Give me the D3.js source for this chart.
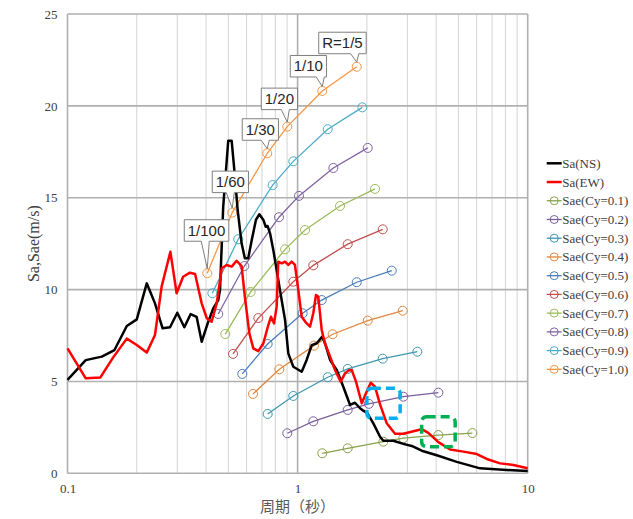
<!DOCTYPE html>
<html>
<head>
<meta charset="utf-8">
<script src="https://cdn.jsdelivr.net/npm/d3@7"></script>
<style>
  body { margin: 0; background: #fff; }
  #chart { width: 633px; height: 519px; }
</style>
</head>
<body>
<div id="chart"></div>
<script>
// Sa(NS)
var nsT = [0.100, 0.120, 0.141, 0.160, 0.181, 0.200, 0.221, 0.240, 0.259, 0.279, 0.300, 0.322, 0.343, 0.364, 0.383, 0.409, 0.430, 0.452,
  0.460, 0.475, 0.4995, 0.517, 0.531, 0.549, 0.571, 0.590, 0.610, 0.632, 0.659, 0.682, 0.710, 0.727, 0.741, 0.759, 0.784, 0.811, 0.838,
  0.882, 0.911, 0.958, 1.042, 1.095, 1.152, 1.211, 1.28, 1.315, 1.384, 1.479, 1.58, 1.69, 1.776, 1.867, 1.931, 2.01, 2.134, 2.282, 2.358,
  2.607, 2.88, 3.134, 3.464, 4.026, 4.918, 6.21, 8.11, 10];
var nsSa = [5.08, 6.16, 6.35, 6.71, 8.02, 8.38, 10.34, 9.25, 7.89, 7.95, 8.74, 7.95, 8.67, 8.52, 7.16, 8.25, 8.98, 9.43,
  9.98, 14.5, 18.1, 18.1, 16.5, 14.33, 12.52, 11.7, 11.7, 12.7, 13.79, 14.1, 13.79, 13.42, 13.46, 13.06, 12.16, 11.07, 9.98,
  8.35, 6.53, 5.8, 5.53, 6.17, 6.98, 7.08, 7.44, 7.08, 6.17, 5.62, 4.71, 3.72, 3.84, 3.54, 3.41, 3.27, 2.72, 1.99, 1.77,
  1.77, 1.6, 1.49, 1.23, 0.98, 0.62, 0.27, 0.18, 0.13];

// Sa(EW)
var ewT = [0.100, 0.120, 0.139, 0.158, 0.181, 0.200, 0.221, 0.240, 0.2565, 0.280, 0.298, 0.318, 0.3405, 0.3585, 0.383, 0.403, 0.423, 0.445,
  0.468, 0.492, 0.517, 0.543, 0.571, 0.590, 0.617, 0.642, 0.675, 0.710, 0.746, 0.766, 0.790, 0.811, 0.824, 0.853, 0.882, 0.911, 0.943,
  0.974, 1.007, 1.042, 1.088, 1.132, 1.170, 1.202, 1.23, 1.273, 1.315, 1.384, 1.454, 1.539, 1.607, 1.661, 1.719, 1.794, 1.900, 2.01,
  2.079, 2.17, 2.282, 2.44, 2.651, 2.88, 3.185, 3.464, 3.70, 4.09, 4.60, 5.25, 6.01, 6.64, 7.59, 8.67, 10];
var ewSa = [6.8, 5.17, 5.22, 6.31, 7.33, 6.98, 6.57, 7.53, 10.16, 12.06, 9.8, 10.7, 10.92, 10.85, 9.25, 8.44, 8.25, 9.25,
  11.16, 11.34, 11.25, 11.57, 11.28, 9.61, 7.62, 6.8, 6.65, 7.08, 8.07, 8.52, 8.16, 9.07, 11.52, 11.43, 11.52, 11.34, 11.52,
  11.34, 9.98, 8.52, 8.2, 7.98, 8.71, 9.71, 9.61, 7.8, 7.08, 6.35, 5.62, 4.99, 5.44, 5.59, 5.62, 4.99, 3.81, 4.53,
  4.93, 4.71, 3.75, 2.72, 2.15, 2.15, 2.29, 2.4, 2.2, 1.7, 1.3, 1.18, 1.05, 0.78, 0.54, 0.45, 0.27];

// Sae for each Cy, points at R = 1/100, 1/60, 1/30, 1/20, 1/10, 1/5
var cyList = ["0.1", "0.2", "0.3", "0.4", "0.5", "0.6", "0.7", "0.8", "0.9", "1.0"];
var saeT = [
  [1.28, 1.651, 2.358, 2.88, 4.09, 5.75],
  [0.902, 1.17, 1.651, 2.04, 2.88, 4.09],
  [0.741, 0.958, 1.352, 1.651, 2.344, 3.314],
  [0.640, 0.833, 1.178, 1.42, 2.017, 2.864],
  [0.575, 0.741, 1.052, 1.273, 1.807, 2.566],
  [0.524, 0.675, 0.958, 1.17, 1.651, 2.344],
  [0.485, 0.625, 0.882, 1.077, 1.529, 2.17],
  [0.452, 0.587, 0.830, 1.014, 1.43, 2.017],
  [0.426, 0.552, 0.779, 0.958, 1.352, 1.911],
  [0.405, 0.520, 0.738, 0.902, 1.28, 1.807]
];
var saeV = [
  [1.09, 1.36, 1.72, 1.91, 2.08, 2.19],
  [2.18, 2.83, 3.45, 3.78, 4.17, 4.39],
  [3.23, 4.21, 5.23, 5.68, 6.24, 6.62],
  [4.32, 5.66, 6.95, 7.57, 8.31, 8.85],
  [5.41, 7.04, 8.71, 9.43, 10.4, 11.03],
  [6.5, 8.45, 10.43, 11.32, 12.47, 13.28],
  [7.58, 9.87, 12.19, 13.24, 14.55, 15.48],
  [8.67, 11.28, 13.94, 15.1, 16.62, 17.71],
  [9.8, 12.74, 15.69, 16.98, 18.73, 19.92],
  [10.89, 14.19, 17.42, 18.87, 20.81, 22.13]
];
var rLabels = ["1/100", "1/60", "1/30", "1/20", "1/10", "R=1/5"];

var xTicks = [0.1, 1, 10];
var yTicks = [0, 5, 10, 15, 20, 25];

// highlighted areas (period range, value range)
var boxT = [[2.0, 2.79], [3.46, 4.84]];
var boxV = [[2.99, 4.63], [1.45, 3.08]];

var saeColors = ["#86a24a", "#7a5f9a", "#3f98ad", "#e0883f", "#4a7ebb", "#c0504d", "#9bbb59", "#8064a2", "#4bacc6", "#f79646"];
var boxColors = ["#00b0f0", "#00b050"];
// callout box: left offset, bottom offset from the marker
var callOff = [[-23, -32], [-20, -20], [-25, -13], [-26, -17], [-32, -14], [-38, -13]];

var width = 633, height = 519,
    pL = 67.5, pR = 527.7, pT = 14, pB = 473.3;

var svg = d3.select("#chart").append("svg")
  .attr("width", width)
  .attr("height", height);

var x = d3.scaleLog().domain([0.1, 10]).range([pL, pR]);
var y = d3.scaleLinear().domain([0, 25]).range([pB, pT]);

// grid
var minor = [];
[0.1, 1].forEach(function(d) { for (var k = 2; k <= 9; k++) minor.push(d * k); });
svg.append("g").selectAll("line").data(minor).enter().append("line")
  .attr("x1", function(d) { return x(d); }).attr("x2", function(d) { return x(d); })
  .attr("y1", pT).attr("y2", pB)
  .attr("stroke", "#d4d4d4").attr("stroke-width", 1);
svg.append("g").selectAll("line").data(yTicks).enter().append("line")
  .attr("x1", pL).attr("x2", pR)
  .attr("y1", function(d) { return y(d); }).attr("y2", function(d) { return y(d); })
  .attr("stroke", "#b0b0b0").attr("stroke-width", 1.6);
svg.append("g").selectAll("line").data(xTicks).enter().append("line")
  .attr("x1", function(d) { return x(d); }).attr("x2", function(d) { return x(d); })
  .attr("y1", pT).attr("y2", pB)
  .attr("stroke", "#b0b0b0").attr("stroke-width", 1.6);

// axes
var xAxis = svg.append("g").attr("transform", "translate(0," + pB + ")")
  .call(d3.axisBottom(x).tickValues(xTicks).tickFormat(d3.format("")).tickSize(0).tickPadding(10));
var yAxis = svg.append("g").attr("transform", "translate(" + pL + ",0)")
  .call(d3.axisLeft(y).tickValues(yTicks).tickSize(0).tickPadding(10));
[xAxis, yAxis].forEach(function(a) {
  a.select(".domain").remove();
  a.selectAll("text").attr("font-family", "'Liberation Serif', serif").attr("font-size", 13).attr("fill", "#404040");
});

svg.append("text")
  .attr("x", (pL + pR) / 2).attr("y", 512)
  .attr("text-anchor", "middle")
  .attr("font-family", "'Noto Sans CJK JP', sans-serif").attr("font-size", 15).attr("fill", "#595959")
  .text("周期（秒）");
svg.append("text")
  .attr("transform", "translate(39," + ((pT + pB) / 2) + ") rotate(-90)")
  .attr("text-anchor", "middle")
  .attr("font-family", "'Liberation Serif', serif").attr("font-size", 16).attr("fill", "#404040")
  .text("Sa,Sae(m/s)");

var line = d3.line().x(function(d) { return x(d[0]); }).y(function(d) { return y(d[1]); });

// Sae series
cyList.forEach(function(cy, i) {
  var pts = d3.zip(saeT[i], saeV[i]);
  var g = svg.append("g");
  g.append("path").attr("d", line(pts)).attr("fill", "none")
    .attr("stroke", saeColors[i]).attr("stroke-width", 1.3);
  g.selectAll("circle").data(pts).enter().append("circle")
    .attr("cx", function(d) { return x(d[0]); }).attr("cy", function(d) { return y(d[1]); })
    .attr("r", 4.5).attr("fill", "none").attr("stroke", saeColors[i]).attr("stroke-width", 1);
});

// Sa curves
svg.append("path").attr("d", line(d3.zip(nsT, nsSa))).attr("fill", "none")
  .attr("stroke", "#000").attr("stroke-width", 2.5).attr("stroke-linejoin", "round");
svg.append("path").attr("d", line(d3.zip(ewT, ewSa))).attr("fill", "none")
  .attr("stroke", "#ff0000").attr("stroke-width", 2.5).attr("stroke-linejoin", "round");

// dashed highlight boxes
boxT.forEach(function(t, i) {
  svg.append("rect")
    .attr("x", x(t[0])).attr("y", y(boxV[i][1]))
    .attr("width", x(t[1]) - x(t[0])).attr("height", y(boxV[i][0]) - y(boxV[i][1]))
    .attr("rx", 5).attr("fill", "none")
    .attr("stroke", boxColors[i]).attr("stroke-width", 3.5).attr("stroke-dasharray", "9,5");
});

// callouts on the Cy=1.0 markers
var last = saeT.length - 1;
rLabels.forEach(function(lab, i) {
  var px = x(saeT[last][i]), py = y(saeV[last][i]);
  var g = svg.append("g");
  var t = g.append("text")
    .attr("font-family", "'Liberation Sans', sans-serif").attr("font-size", 15).attr("fill", "#262626")
    .text(lab);
  var w = t.node().getComputedTextLength() + 7, h = 21.5;
  var bl = px + callOff[i][0], bb = py + callOff[i][1], bt = bb - h, br = bl + w;
  var mid = Math.max(bl + 6, Math.min(br - 6, px - 2));
  var tipY = py - 4.5;
  g.insert("path", "text")
    .attr("d", "M" + bl + "," + bt + "H" + br + "V" + bb + "H" + (mid + 4) +
      "L" + px + "," + tipY + "L" + (mid - 4) + "," + bb + "H" + bl + "Z")
    .attr("fill", "#fff").attr("stroke", "#7f7f7f").attr("stroke-width", 1);
  t.attr("x", bl + 3.5).attr("y", bb - 5.5);
});

// legend
var legend = svg.append("g").attr("transform", "translate(546.7,0)");
var legItems = [{name: "Sa(NS)", color: "#000", mark: false, w: 2.5}, {name: "Sa(EW)", color: "#ff0000", mark: false, w: 2.5}];
cyList.forEach(function(cy, i) { legItems.push({name: "Sae(Cy=" + cy + ")", color: saeColors[i], mark: true, w: 1.3}); });
var li = legend.selectAll("g").data(legItems).enter().append("g")
  .attr("transform", function(d, i) { return "translate(0," + (163.3 + i * 18.73) + ")"; });
li.append("line").attr("x1", 0).attr("x2", 15).attr("y1", 0).attr("y2", 0)
  .attr("stroke", function(d) { return d.color; }).attr("stroke-width", function(d) { return d.w; });
li.filter(function(d) { return d.mark; }).append("circle")
  .attr("cx", 7.5).attr("cy", 0).attr("r", 4).attr("fill", "none")
  .attr("stroke", function(d) { return d.color; });
li.append("text").attr("x", 15.5).attr("y", 4.5)
  .attr("font-family", "'Liberation Serif', serif").attr("font-size", 13).attr("fill", "#404040")
  .text(function(d) { return d.name; });
</script>
</body>
</html>
